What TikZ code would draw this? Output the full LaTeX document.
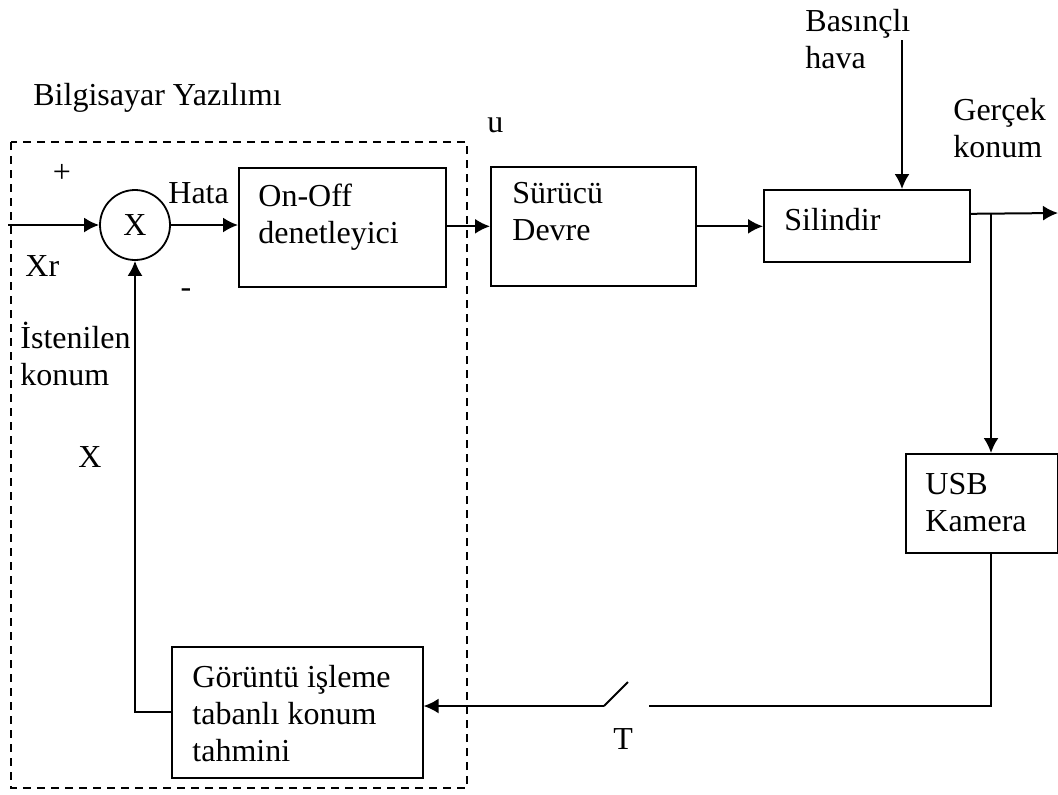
\documentclass[tikz,border=0pt]{standalone}
\usepackage{fontspec}
\setmainfont{Liberation Serif}
\usetikzlibrary{arrows.meta,positioning}

\begin{document}
\begin{tikzpicture}[x=0.5pt, y=-0.5pt,
        font=\fontsize{16}{18.5}\selectfont,
        block/.style={draw, line width=0.8pt, anchor=north west, inner sep=0pt},
        intext/.style={anchor=north west, inner sep=0pt, align=left},
        summer/.style={draw, circle, line width=0.9pt, minimum size=35pt, inner sep=0pt},
        lbl/.style={anchor=base west, inner sep=0pt, align=left},
        conn/.style={line width=1pt},
        arr/.style={conn, -{Latex[length=7.5pt, width=7.5pt]}},
        swbox/.style={line width=0.8pt, dash pattern=on 4pt off 3pt}]
    \useasboundingbox (0,0) rectangle (1058,794);

    % computer software part
    \draw[swbox] (11,142) rectangle (467,788);
    \node[lbl] (yazilim) at (33,105) {Bilgisayar Yazılımı};

    \node[summer] (sum) at (135,225) {X};
    \node[block, minimum width=103.5pt, minimum height=59.5pt] (onoff) at (238,167) {};
    \node[intext] (onoffT) at (258,184) {On-Off\\denetleyici};
    \node[block, minimum width=125.5pt, minimum height=65.5pt] (goruntu) at (171,646) {};
    \node[intext] (goruntuT) at (192,665) {Görüntü işleme\\tabanlı konum\\tahmini};

    % plant
    \node[block, minimum width=102.5pt, minimum height=59.5pt] (surucu) at (490,166) {};
    \node[intext] (surucuT) at (512,182) {Sürücü\\Devre};
    \node[block, minimum width=103pt, minimum height=36pt] (silindir) at (763,189) {};
    \node[intext] (silindirT) at (784,208) {Silindir};
    \node[block, minimum width=76pt, minimum height=49.5pt] (kamera) at (905,453) {};
    \node[intext] (kameraT) at (925,473) {USB\\Kamera};

    % free ends
    \coordinate (giris) at (8,225);
    \coordinate (hava) at (902,40);
    \coordinate (tap) at (991,213);
    \coordinate (cikis) at (1058,213);
    \coordinate (swR) at (649,706);
    \coordinate (swL) at (604,706);
    \coordinate (swT) at (628,682);

    % connections
    \draw[arr] (giris) -- (sum.west);
    \draw[arr] (sum.east) -- (sum.east -| onoff.west);
    \draw[arr] (onoff.east |- surucu.west) -- (surucu.west);
    \draw[arr] (surucu.east) -- (surucu.east -| silindir.west);
    \draw[arr] (hava) -- (hava |- silindir.north);
    \draw[arr] ([yshift=6pt]silindir.east) -- (cikis);
    \draw[arr] (tap) -- (tap |- kamera.north);
    \draw[conn] (tap |- kamera.south) |- (swR);
    \draw[conn] (swL) -- (swT);
    \draw[arr] (swL) -- (swL -| goruntu.east);
    \draw[arr] (goruntu.west) -| (sum.south);

    % labels
    \node[lbl] (u) at (487,132) {u};
    \node[lbl] (basinc) at (805,68) {Basınçlı\\hava};
    \node[lbl] (gercek) at (953,157) {Gerçek\\konum};
    \node[lbl] (istenen) at (20,385) {İstenilen\\konum};
    \node[lbl] (xlbl) at (78,467) {X};
    \node[lbl] (xr) at (25,276) {Xr};
    \node[lbl] (hata) at (168,203) {Hata};
    \node (arti) at (62,173) {+};
    \node (eksi) at (186,293) {-};
    \node[lbl] (tlbl) at (613,749) {T};
\end{tikzpicture}
\end{document}
